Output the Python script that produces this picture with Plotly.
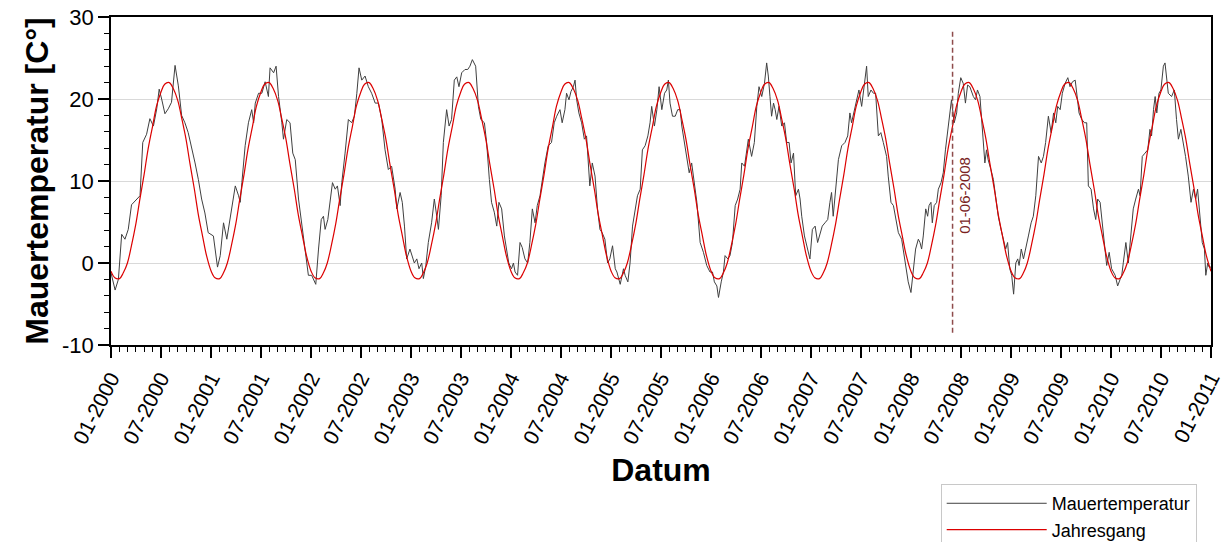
import datetime as dt
import plotly.graph_objects as go

# ---------------- data ----------------
# Mauertemperatur [°C]; for each year: day of the year and measured value
tage_2000 = [0, 15, 27, 39, 51, 63, 75, 94, 106, 116, 130, 142, 155, 167, 176, 185, 197, 209,
             221, 234, 246, 258, 270, 282, 294, 307, 319, 331, 343, 355]
mauer_2000 = [-1.2, -3.3, -2.0, 3.5, 2.9, 4.1, 7.1, 7.8, 8.2, 14.7, 15.7, 17.6, 16.7, 18.8, 21.2,
              20.0, 18.2, 18.8, 19.6, 24.1, 21.6, 18.0, 17.1, 15.9, 14.3, 12.2, 10.2, 7.8, 6.1, 3.7]

tage_2001 = [8, 15, 23, 33, 45, 57, 63, 75, 88, 100, 106, 112, 124, 136, 148, 155, 161, 173, 185,
             197, 209, 215, 228, 237, 246, 258, 264, 276, 288, 298, 307, 319, 331, 343, 355]
mauer_2001 = [3.3, 1.7, -0.5, 0.9, 4.9, 2.9, 4.1, 7.0, 9.4, 8.2, 7.4, 9.8, 14.3, 17.1, 18.7, 17.1,
              19.5, 20.7, 20.7, 22.1, 20.3, 23.8, 23.2, 24.0, 20.3, 17.1, 15.1, 17.5, 17.1, 13.4,
              12.6, 7.8, 4.5, 1.7, -1.5]

tage_2002 = [2, 17, 27, 37, 45, 51, 61, 69, 78, 88, 96, 106, 112, 124, 136, 148, 158, 167, 175,
             185, 197, 209, 221, 234, 246, 258, 270, 282, 294, 307, 313, 325, 333, 341, 349, 361]
mauer_2002 = [-1.5, -2.6, 1.7, 5.3, 5.7, 4.1, 5.3, 7.8, 9.8, 9.0, 9.4, 7.0, 9.8, 13.4, 17.5, 17.1,
              17.9, 20.7, 23.8, 22.3, 22.8, 21.5, 20.7, 19.5, 19.5, 17.5, 13.8, 11.4, 11.8, 9.0,
              6.6, 8.6, 7.4, 4.5, 0.5, 1.7]

tage_2003 = [12, 21, 29, 39, 45, 54, 63, 75, 85, 94, 100, 110, 118, 130, 139, 148, 158, 167, 175,
             185, 197, 207, 215, 224, 236, 246, 255, 268, 276, 286, 294, 304, 313, 321, 331, 341,
             349, 357]
mauer_2003 = [0.0, 0.5, -0.7, 0.0, -1.9, -0.3, 2.5, 4.9, 7.8, 5.7, 4.1, 8.2, 14.7, 18.7, 16.7, 17.5,
              22.3, 22.7, 21.5, 23.2, 23.6, 23.6, 24.0, 24.8, 24.0, 19.1, 17.5, 17.1, 14.7, 10.2,
              7.4, 6.2, 4.5, 7.4, 6.6, 3.3, 1.7, 0.0]

tage_2004 = [2, 9, 15, 24, 33, 41, 51, 61, 69, 78, 88, 96, 106, 114, 124, 136, 148, 158, 167, 179,
             187, 197, 203, 212, 219, 228, 234, 240, 248, 258, 268, 276, 288, 297, 307, 316, 325,
             333, 343, 353, 361]
mauer_2004 = [-0.7, 0.0, -1.1, -1.5, 2.5, 1.9, 0.5, 0.0, 2.5, 6.6, 4.9, 7.0, 8.2, 10.2, 12.2, 14.3,
              14.7, 17.1, 17.9, 18.7, 17.1, 18.7, 20.7, 19.9, 20.9, 21.5, 22.3, 19.9, 18.3, 17.1,
              15.1, 15.5, 9.4, 12.2, 10.6, 6.6, 4.1, 3.7, 2.9, 0.0, 0.5]

tage_2005 = [5, 15, 21, 33, 45, 51, 61, 69, 78, 88, 96, 106, 114, 124, 134, 142, 148, 158, 167,
             175, 185, 195, 203, 209, 215, 224, 234, 243, 252, 258, 268, 276, 285, 294, 304, 313,
             325, 337, 349, 361]
mauer_2005 = [2.1, -0.7, -1.1, -2.6, -0.7, -1.5, -2.3, 0.0, 4.5, 6.6, 8.2, 9.0, 13.8, 14.3, 15.5,
              17.1, 19.1, 16.7, 18.7, 21.5, 18.7, 20.7, 21.1, 22.3, 19.5, 17.9, 17.9, 18.7, 18.7,
              16.7, 14.7, 13.0, 11.0, 12.2, 9.4, 7.4, 2.5, 1.3, -0.3, -1.1]

tage_2006 = [5, 12, 21, 27, 37, 45, 51, 61, 69, 78, 88, 97, 106, 112, 122, 130, 136, 148, 158,
             167, 175, 185, 195, 203, 209, 215, 221, 228, 234, 240, 248, 258, 268, 276, 285, 292,
             301, 309, 319, 325, 331, 341, 349, 361]
mauer_2006 = [-1.1, -2.3, -2.8, -4.2, -2.3, -1.1, 0.9, 0.5, 0.9, 2.5, 7.0, 7.8, 9.0, 12.2, 11.8,
              13.4, 15.1, 13.0, 14.7, 19.1, 21.5, 20.3, 21.9, 24.4, 22.8, 20.3, 17.9, 19.5, 18.7,
              17.5, 19.1, 16.7, 17.1, 14.7, 14.7, 12.2, 13.4, 8.2, 9.0, 7.8, 5.7, 3.3, 2.1, 0.5]

tage_2007 = [5, 15, 24, 33, 41, 51, 61, 69, 75, 81, 90, 100, 112, 124, 134, 142, 148, 158, 167,
             175, 185, 195, 203, 209, 219, 228, 236, 246, 255, 264, 276, 282, 292, 301, 309, 319,
             331, 343, 355]
mauer_2007 = [4.1, 4.5, 2.5, 3.7, 4.5, 4.9, 5.3, 7.4, 8.6, 5.7, 9.0, 12.6, 14.3, 14.7, 15.5, 18.3,
              17.1, 18.7, 19.9, 21.1, 19.1, 21.9, 24.0, 20.3, 21.1, 20.7, 20.7, 15.5, 15.9, 14.7,
              13.0, 10.6, 7.4, 7.0, 5.7, 3.7, 2.9, 0.0, -2.3]

tage_2008 = [0, 9, 17, 27, 33, 39, 45, 54, 61, 66, 73, 78, 85, 94, 100, 110, 118, 126, 134, 142,
             148, 158, 167, 173, 182, 191, 199, 207, 215, 228, 236, 243, 252, 260, 270, 276, 282,
             292, 301, 309, 319, 329, 337, 346, 353, 361]
mauer_2008 = [-3.6, -0.7, 1.7, 2.9, 2.5, 1.7, 3.3, 6.6, 5.7, 7.0, 7.4, 4.9, 7.0, 7.4, 9.0, 9.8,
              11.0, 13.8, 15.9, 17.9, 19.9, 17.1, 18.3, 20.7, 22.6, 21.9, 19.5, 21.7, 21.5, 20.3,
              19.9, 21.1, 20.3, 16.7, 12.2, 13.8, 12.6, 11.4, 10.2, 8.2, 5.7, 4.1, 2.9, 1.7, 2.5,
              -0.7]

tage_2009 = [2, 9, 17, 24, 29, 37, 45, 54, 63, 73, 81, 90, 100, 110, 118, 126, 136, 146, 155,
             163, 170, 179, 187, 197, 207, 215, 224, 234, 240, 248, 258, 268, 276, 282, 292, 301,
             309, 316, 325, 333, 341, 349, 358]
mauer_2009 = [-1.5, -3.8, 0.0, 0.5, -0.3, 1.7, 0.5, 2.1, 3.3, 4.9, 5.7, 8.2, 13.0, 12.2, 13.0,
              14.7, 17.9, 15.9, 18.3, 17.1, 19.1, 18.7, 20.7, 21.9, 22.6, 21.5, 22.1, 22.3, 20.3,
              18.3, 17.5, 17.1, 17.1, 9.4, 9.0, 6.6, 5.3, 7.8, 7.4, 4.9, 1.7, -0.3, 1.3]

tage_2010 = [2, 15, 24, 33, 39, 45, 54, 63, 73, 81, 90, 100, 106, 114, 124, 134, 142, 148, 155,
             161, 167, 175, 182, 191, 197, 203, 209, 221, 231, 239, 246, 255, 264, 272, 282, 292,
             301, 309, 316, 325, 333, 341, 346, 353, 358, 365]
mauer_2010 = [-0.7, -1.5, -2.8, -2.0, -1.5, 0.1, 2.5, 0.0, 3.3, 6.6, 7.8, 9.0, 8.2, 13.0, 13.4,
              13.8, 16.3, 15.5, 18.7, 20.3, 18.3, 20.7, 21.1, 24.0, 24.4, 22.8, 20.7, 20.3, 21.1,
              17.5, 15.1, 16.3, 14.7, 13.0, 10.6, 7.4, 9.0, 7.8, 9.0, 5.3, 2.5, 1.7, -1.5, 0.0,
              -0.5, -0.5]

mauer_tage = {2000: tage_2000, 2001: tage_2001, 2002: tage_2002, 2003: tage_2003,
              2004: tage_2004, 2005: tage_2005, 2006: tage_2006, 2007: tage_2007,
              2008: tage_2008, 2009: tage_2009, 2010: tage_2010}
mauer_werte = {2000: mauer_2000, 2001: mauer_2001, 2002: mauer_2002, 2003: mauer_2003,
               2004: mauer_2004, 2005: mauer_2005, 2006: mauer_2006, 2007: mauer_2007,
               2008: mauer_2008, 2009: mauer_2009, 2010: mauer_2010}

# Jahresgang [°C]: the same annual cycle every year, values on the 1st and 15th of each month
jahresgang_jahr = [-1.0, -1.8, -1.9, -1.2, 0.0, 2.0, 4.8, 7.7, 10.8, 13.8, 16.7, 19.1,
                   20.8, 21.8, 22.0, 21.3, 19.8, 17.7, 15.1, 12.2, 8.9, 5.9, 3.2, 0.9]

markierung_datum = "2008-06-01"
markierung_text = "01-06-2008"

y_tickvals = [-10, 0, 10, 20, 30]
y_ticktext = ["-10", "0", "10", "20", "30"]

# ---------------- build the series ----------------
mauer_x, mauer_y = [], []
for jahr in sorted(mauer_tage):
    for tag, w in zip(mauer_tage[jahr], mauer_werte[jahr]):
        mauer_x.append(dt.datetime(jahr, 1, 1) + dt.timedelta(days=tag))
        mauer_y.append(w)

jg_x, jg_y = [], []
for jahr in sorted(mauer_tage):
    for i, w in enumerate(jahresgang_jahr):
        jg_x.append(dt.datetime(jahr, i // 2 + 1, 1 if i % 2 == 0 else 15))
        jg_y.append(w)
jg_x.append(dt.datetime(2011, 1, 1))
jg_y.append(jahresgang_jahr[0])

# ---------------- figure ----------------
fig = go.Figure()
fig.add_trace(go.Scatter(x=mauer_x, y=mauer_y, mode="lines", name="Mauertemperatur",
                         line=dict(color="#404040", width=1)))
fig.add_trace(go.Scatter(x=jg_x, y=jg_y, mode="lines", name="Jahresgang",
                         line=dict(color="#dc0000", width=1.2, shape="spline")))

fig.add_shape(type="line", xref="x", yref="y", x0=markierung_datum, x1=markierung_datum,
              y0=-8.5, y1=28.3, line=dict(color="#8e4b4b", width=1.5, dash="5px,3px"))
fig.add_annotation(x="2008-07-16", y=8.3, xref="x", yref="y", text=markierung_text,
                   textangle=-90, showarrow=False,
                   font=dict(size=15, color="#7a1f1f"))

fnt = "Liberation Sans, Arial, sans-serif"
fig.update_layout(
    width=1224, height=542,
    margin=dict(l=111, r=13, t=17, b=197, autoexpand=False),
    plot_bgcolor="white", paper_bgcolor="white",
    font=dict(family=fnt, color="black"),
    legend=dict(x=0.987, xanchor="right", y=-0.424, yanchor="top",
                bgcolor="white", bordercolor="#c8c8c8", borderwidth=1,
                font=dict(size=18, family=fnt), itemwidth=100, tracegroupgap=0),
)
fig.update_xaxes(
    type="date", range=["2000-01-01", "2011-01-01"], tick0="2000-01-01", dtick="M6",
    tickformat="%m-%Y", tickangle=-63, ticks="outside", ticklen=11, tickwidth=1.5,
    tickcolor="black", tickfont=dict(size=21), showline=True, linecolor="black",
    linewidth=1.5, mirror=True, showgrid=False, zeroline=False, automargin=False,
    minor=dict(dtick="M1", ticks="outside", ticklen=5, tickwidth=1, tickcolor="black",
               showgrid=False),
    title=dict(text="Datum", font=dict(size=32, weight="bold"), standoff=12),
)
fig.update_yaxes(
    range=[-10, 30], tickmode="array", tickvals=y_tickvals, ticktext=y_ticktext,
    ticks="outside", ticklen=11, tickwidth=1.5,
    tickcolor="black", tickfont=dict(size=22), showline=True, linecolor="black",
    linewidth=1.5, mirror=True, showgrid=True, gridcolor="#d9d9d9", gridwidth=1,
    zeroline=False, automargin=False,
    minor=dict(tick0=0, dtick=2, ticks="outside", ticklen=5, tickwidth=1, tickcolor="black",
               showgrid=False),
    title=dict(text="Mauertemperatur [C°]", font=dict(size=32, weight="bold"), standoff=4),
)

fig.write_html("out.html")
